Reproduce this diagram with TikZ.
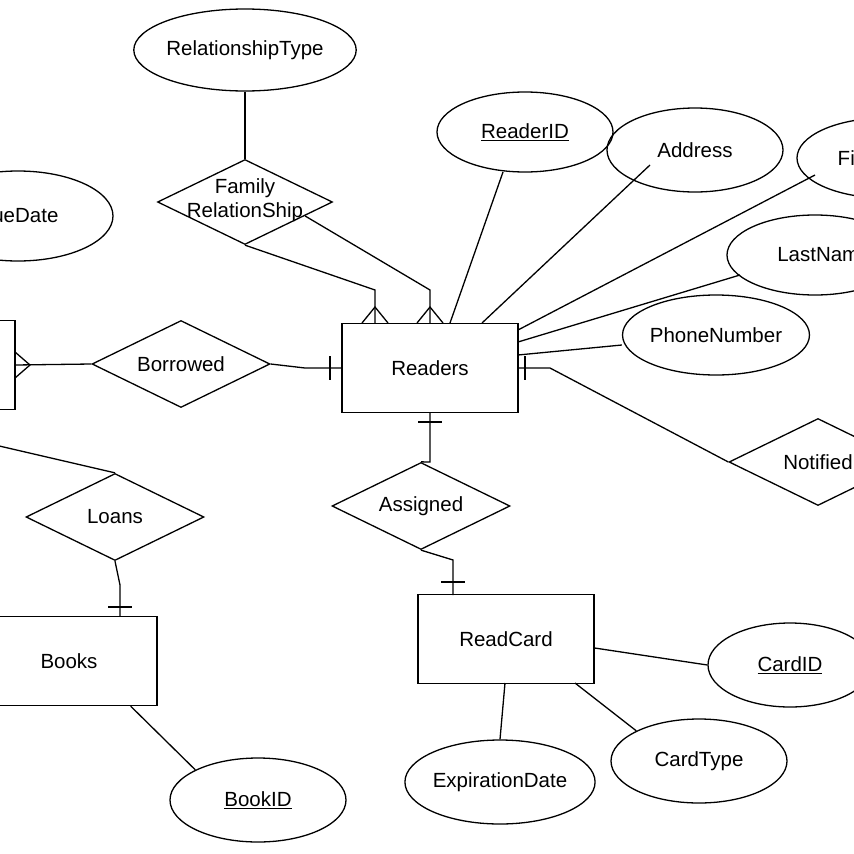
\documentclass[tikz,border=0pt]{standalone}
\usepackage{fontspec}
\setmainfont{Liberation Sans}
\usetikzlibrary{shapes.geometric}

\tikzset{
  attr/.style={ellipse, draw, line width=1.3pt, inner sep=0pt, minimum width=176pt, minimum height=84pt, font=\fontsize{20.5}{24}\selectfont},
  ent/.style={rectangle, draw, line width=1.3pt, inner sep=0pt, minimum width=176pt, minimum height=89pt, font=\fontsize{20.5}{24}\selectfont},
  rel/.style={diamond, draw, line width=1.3pt, inner sep=0pt, minimum width=178pt, minimum height=87pt},
  rtxt/.style={align=center, font=\fontsize{20.5}{24}\selectfont},
  conn/.style={line width=1.3pt}
}

\begin{document}
\begin{tikzpicture}[x=1pt,y=-1pt]
\useasboundingbox (0,0) rectangle (854,854);

% entities
\node[ent] (readers) at (430,368) {Readers};
\node[ent] (readcard) at (506,639) {ReadCard};
\node[ent] (books) at (69,661) {Books};
\node[ent] (left) at (-73,365) {};

% relationships
\node[rel, minimum width=175pt, minimum height=85pt] (famrel) at (245,202) {};
\node[rtxt] at (245,200) {Family\\RelationShip};
\node[rel] (borrowed) at (181,364) {};
\node[rtxt] at (181,364) {Borrowed};
\node[rel] (loans) at (115,517) {};
\node[rtxt] at (115,517) {Loans};
\node[rel] (assigned) at (421,506) {};
\node[rtxt] at (421,506) {Assigned};
\node[rel] (notified) at (818,462) {};
\node[rtxt] at (818,462) {Notified};

% attributes
\node[attr, minimum width=180pt, minimum height=82pt] (reltype) at (245,50) {RelationshipType};
\node[attr, minimum width=190pt, minimum height=90pt] (duedate) at (18,216) {DueDate};
\node[attr, minimum height=80pt] (readerid) at (525,132) {\underline{ReaderID}};
\node[attr] (address) at (695,150) {Address};
\node[attr, minimum height=80pt] (firstname) at (885,158) {FirstName};
\node[attr, minimum height=80pt] (lastname) at (815,255) {\hspace*{18pt}LastName};
\node[attr, minimum height=80pt] (phone) at (716,335) {PhoneNumber};
\node[attr, minimum width=164pt] (cardid) at (790,665) {\underline{CardID}};
\node[attr] (cardtype) at (699,761) {CardType};
\node[attr] (expdate) at (500,782) {ExpirationDate};
\node[attr] (bookid) at (258,800) {\underline{BookID}};

% bend points
\coordinate (f1) at (375,290);
\coordinate (f2) at (430,290);
\coordinate (b1) at (305,368);
\coordinate (n1) at (550,368);
\coordinate (a1) at (430,462);
\coordinate (a2) at (453,560);
\coordinate (l1) at (120,585);
\coordinate (l0) at (-5,445);

% connectors
\draw[conn] (reltype.south) -- (famrel.north);
\draw[conn] (famrel.south) -- (f1) -- (375,323);
\draw[conn] (famrel.east) ++(-28,14) -- (f2) -- (430,323);
\draw[conn] (readerid) ++(-22,40) -- (450,323);
\draw[conn] (address) ++(-45,15) -- (482,323);
\draw[conn] (firstname) ++(-70,17) -- (518,330);
\draw[conn] (lastname) ++(-75,20) -- (518,342);
\draw[conn] (phone.west) ++(0,10) -- (518,355);
\draw[conn] (518,368) -- (n1) -- (notified.west);
\draw[conn] (readers.west) -- (b1) -- (borrowed.east);
\draw[conn] (borrowed.west) -- (15,365);
\draw[conn] (readers.south) -- (a1) -- (assigned.north);
\draw[conn] (assigned.south) -- (a2) -- (453,595);
\draw[conn] (l0) -- (loans.north);
\draw[conn] (loans.south) -- (l1) -- (books.north -| l1);
\draw[conn] (books.south east) ++(-27,0) -- (bookid.north west);
\draw[conn] (readcard.east) ++(0,9) -- (cardid.west);
\draw[conn] (575,683) -- (cardtype.north west);
\draw[conn] (505,683) -- (expdate.north);

% crow's feet and bars
\draw[conn] (362,323) -- (375,307) -- (388,323);
\draw[conn] (417,323) -- (430,307) -- (443,323);
\draw[conn] (15,352) -- (30,365) -- (15,378);
\draw[conn] (330,356) -- (330,380);
\draw[conn] (525,356) -- (525,380);
\draw[conn] (418,422) -- (442,422);
\draw[conn] (441,582) -- (465,582);
\draw[conn] (108,607) -- (132,607);
\end{tikzpicture}
\end{document}
